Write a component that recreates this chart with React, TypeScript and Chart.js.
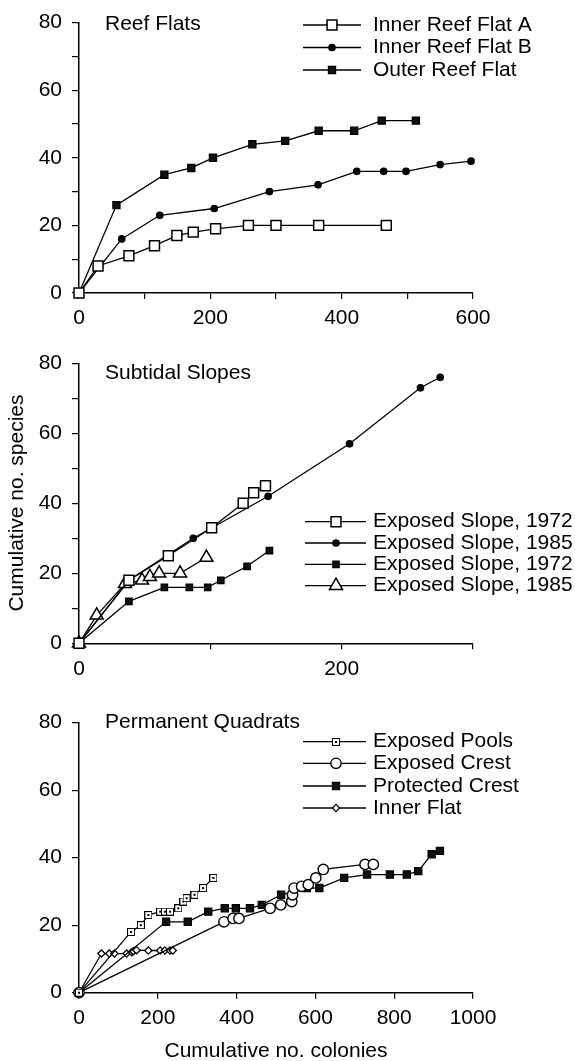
import React, { useEffect, useRef } from 'react';
import { Chart, registerables } from 'chart.js';
import { drawPoint } from 'chart.js/helpers';

Chart.register(...registerables);

// ---------- Panel 1: Reef Flats ----------
const innerAX = [0, 29, 76, 115, 149, 174, 208, 258, 300, 365, 468];
const innerAY = [0, 8, 11, 14, 17, 18, 19, 20, 20, 20, 20];
const innerBX = [0, 65, 123, 206, 290, 364, 423, 464, 498, 550, 597];
const innerBY = [0, 16, 23, 25, 30, 32, 36, 36, 36, 38, 39];
const outerX = [0, 57, 130, 171, 204, 264, 314, 365, 419, 461, 513];
const outerY = [0, 26, 35, 37, 40, 44, 45, 48, 48, 51, 51];

// ---------- Panel 2: Subtidal Slopes ----------
const es72aX = [0, 38, 68, 101, 125, 133, 142];
const es72aY = [0, 18, 25, 33, 40, 43, 45];
const es85aX = [0, 38, 87, 144, 206, 260, 275];
const es85aY = [0, 18, 30, 42, 57, 73, 76];
const es72bX = [0, 38, 65, 84, 98, 108, 128, 145];
const es72bY = [0, 12, 16, 16, 16, 18, 22, 26.5];
const es85bX = [0, 13.5, 35, 48, 54, 61, 77, 97];
const es85bY = [0, 8, 17, 18, 19, 20, 20, 24.5];

// ---------- Panel 3: Permanent Quadrats ----------
const poolsX = [0, 132, 157, 176, 206, 218, 231, 252, 265, 273, 293, 315, 341];
const poolsY = [0, 18, 20, 23, 24, 24, 24, 25, 27, 28, 29, 31, 34];
const crestEX = [0, 368, 391, 406, 485, 512, 540, 542, 546, 565, 582, 601, 620, 726, 747];
const crestEY = [0, 21, 22, 22, 25, 26, 27, 29, 31, 31.5, 32, 34, 36.5, 38, 38];
const crestPX = [0, 221, 276, 328, 370, 398, 434, 464, 513, 578, 610, 673, 731, 789, 832, 861, 895, 916];
const crestPY = [0, 21, 21, 24, 25, 25, 25, 26, 29, 31, 31, 34, 35, 35, 35, 36, 41, 42];
const innerFlatX = [0, 57, 77, 90, 121, 134, 138, 146, 176, 206, 218, 231, 238];
const innerFlatY = [0, 11.6, 11.6, 11.6, 11.6, 12, 12.3, 12.6, 12.5, 12.5, 12.5, 12.5, 12.5];

const FONT = '"Liberation Sans", Arial, Helvetica, sans-serif';

function pts(xs: number[], ys: number[]) {
  return xs.map((x, i) => ({ x, y: ys[i] }));
}

function dotSquare(): HTMLCanvasElement {
  const c = document.createElement('canvas');
  c.width = 8; c.height = 8;
  const g = c.getContext('2d')!;
  g.fillStyle = '#fff';
  g.fillRect(0, 0, 8, 8);
  g.strokeStyle = '#000';
  g.lineWidth = 1;
  g.strokeRect(0.5, 0.5, 7, 7);
  g.fillStyle = '#000';
  g.fillRect(3, 3, 2, 2);
  return c;
}

function ds(label: string, xs: number[], ys: number[], style: any, radius: number, fill: string, bw = 1.3) {
  return {
    label,
    data: pts(xs, ys),
    showLine: true,
    borderColor: '#000',
    borderWidth: 1.3,
    pointStyle: style,
    pointRadius: radius,
    pointBackgroundColor: fill,
    pointBorderColor: '#000',
    pointBorderWidth: bw,
    clip: false,
  };
}

const overlay = {
  id: 'overlay',
  afterDraw(chart: any, _args: any, opts: any) {
    const ctx = chart.ctx;
    ctx.save();
    ctx.font = `21px ${FONT}`;
    ctx.fillStyle = '#000';
    ctx.textBaseline = 'middle';
    ctx.textAlign = 'left';
    ctx.fillText(opts.title, opts.titleX, opts.titleY);
    (opts.rows as number[]).forEach((yy, i) => {
      const d = chart.data.datasets[i];
      ctx.strokeStyle = '#000';
      ctx.lineWidth = 1.3;
      ctx.beginPath();
      ctx.moveTo(opts.lx1, yy);
      ctx.lineTo(opts.lx2, yy);
      ctx.stroke();
      ctx.fillStyle = d.pointBackgroundColor;
      ctx.strokeStyle = '#000';
      ctx.lineWidth = d.pointBorderWidth;
      const my = typeof d.pointStyle === 'string' ? yy : Math.round(yy);
      drawPoint(ctx, { pointStyle: d.pointStyle, radius: d.pointRadius, borderWidth: d.pointBorderWidth, rotation: 0 } as any, opts.mx, my);
      ctx.fillStyle = '#000';
      ctx.fillText(d.label, opts.tx, yy);
    });
    if (opts.yTitle) {
      ctx.save();
      ctx.translate(opts.yTitle.x, opts.yTitle.y);
      ctx.rotate(-Math.PI / 2);
      ctx.textAlign = 'center';
      ctx.fillText(opts.yTitle.text, 0, 0);
      ctx.restore();
    }
    if (opts.xTitle) {
      ctx.textAlign = 'center';
      ctx.fillText(opts.xTitle.text, opts.xTitle.x, opts.xTitle.y);
    }
    ctx.restore();
  },
};

function xScale(max: number, step: number, show: (v: number) => boolean, h: number) {
  return {
    type: 'linear',
    min: 0,
    max,
    ticks: {
      stepSize: step,
      autoSkip: false,
      maxRotation: 0,
      padding: 7,
      color: '#000',
      font: { size: 21, family: FONT },
      callback: (v: any) => (show(Number(v)) ? String(v) : ''),
    },
    grid: { drawOnChartArea: false, drawTicks: true, tickLength: 6, color: '#000', lineWidth: 1.2 },
    border: { display: true, color: '#000', width: 1.5 },
    afterFit: (s: any) => { s.height = h; },
  };
}

function yScale(step: number) {
  return {
    type: 'linear',
    min: 0,
    max: 80,
    ticks: {
      stepSize: step,
      autoSkip: false,
      padding: 10,
      color: '#000',
      font: { size: 21, family: FONT },
      callback: (v: any) => (Number(v) % 20 === 0 ? String(v) : ''),
    },
    grid: { drawOnChartArea: false, drawTicks: true, tickLength: 7, color: '#000', lineWidth: 1.2 },
    border: { display: true, color: '#000', width: 1.5 },
    afterFit: (s: any) => { s.width = 79; },
  };
}

function makeConfig(datasets: any[], x: any, y: any, padTop: number, ov: any) {
  return {
    type: 'scatter',
    data: { datasets },
    options: {
      animation: false,
      responsive: false,
      devicePixelRatio: 1,
      events: [],
      layout: { padding: { left: 0, right: 102, top: padTop, bottom: 0 } },
      scales: { x, y },
      plugins: { legend: { display: false }, tooltip: { enabled: false }, overlay: ov },
    },
    plugins: [overlay],
  } as any;
}

export default function App() {
  const r1 = useRef<HTMLCanvasElement>(null);
  const r2 = useRef<HTMLCanvasElement>(null);
  const r3 = useRef<HTMLCanvasElement>(null);

  useEffect(() => {
    Chart.defaults.font.family = FONT;
    Chart.defaults.color = '#000';
    const pools = dotSquare();

    const c1 = new Chart(r1.current!, makeConfig(
      [
        ds('Inner Reef Flat A', innerAX, innerAY, 'rect', 7, '#fff', 1.5),
        ds('Inner Reef Flat B', innerBX, innerBY, 'circle', 3.2, '#000'),
        ds('Outer Reef Flat', outerX, outerY, 'rect', 5, '#111'),
      ],
      xScale(600, 100, (v) => v % 200 === 0, 42),
      yScale(10),
      15,
      { title: 'Reef Flats', titleX: 105, titleY: 24, rows: [25, 47.5, 70], lx1: 303, lx2: 361, mx: 332, tx: 373 },
    ));

    const c2 = new Chart(r2.current!, makeConfig(
      [
        ds('Exposed Slope, 1972', es72aX, es72aY, 'rect', 7, '#fff', 1.5),
        ds('Exposed Slope, 1985', es85aX, es85aY, 'circle', 3.2, '#000'),
        ds('Exposed Slope, 1972', es72bX, es72bY, 'rect', 4.5, '#111'),
        ds('Exposed Slope, 1985', es85bX, es85bY, 'triangle', 7.5, '#fff', 1.5),
      ],
      xScale(300, 100, (v) => v === 0 || v === 200, 56.7),
      yScale(10),
      28.3,
      {
        title: 'Subtidal Slopes', titleX: 105, titleY: 38.3, rows: [186.7, 208, 229.3, 250.7], lx1: 305, lx2: 366, mx: 336, tx: 373,
        yTitle: { text: 'Cumulative no. species', x: 17, y: 168 },
      },
    ));

    const c3 = new Chart(r3.current!, makeConfig(
      [
        ds('Exposed Pools', poolsX, poolsY, pools, 4.5, '#fff'),
        ds('Exposed Crest', crestEX, crestEY, 'circle', 5.2, '#fff', 1.4),
        ds('Protected Crest', crestPX, crestPY, 'rect', 5, '#111'),
        ds('Inner Flat', innerFlatX, innerFlatY, 'rectRot', 3.6, '#fff', 1.3),
      ],
      xScale(1000, 200, () => true, 68.3),
      yScale(20),
      14,
      {
        title: 'Permanent Quadrats', titleX: 105, titleY: 22, rows: [41.7, 63.3, 86, 108], lx1: 303, lx2: 366, mx: 336, tx: 373,
        xTitle: { text: 'Cumulative no. colonies', x: 276, y: 351 },
      },
    ));

    return () => { c1.destroy(); c2.destroy(); c3.destroy(); };
  }, []);

  const base: React.CSSProperties = { position: 'absolute', left: 0, display: 'block' };
  return (
    <div style={{ position: 'absolute', left: 0, top: 0, width: 575, height: 1061, background: '#fff' }}>
      <canvas ref={r1} width={575} height={335} style={{ ...base, top: 0 }} />
      <canvas ref={r2} width={575} height={365} style={{ ...base, top: 335 }} />
      <canvas ref={r3} width={575} height={361} style={{ ...base, top: 700 }} />
    </div>
  );
}
